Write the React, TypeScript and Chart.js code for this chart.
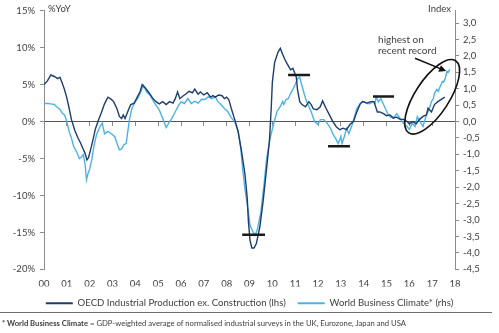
import React, { useEffect, useRef } from "react";
import { Chart, registerables } from "chart.js";

Chart.register(...registerables);

// OECD Industrial Production ex. Construction, % YoY (left axis): [year, value]
const oecdPoints: [number, number][] = [
  [2000.0, 5.0], [2000.15, 5.5], [2000.3, 6.3], [2000.45, 6.1], [2000.6, 5.8], [2000.7, 6.0],
  [2000.8, 5.2], [2000.9, 4.3], [2001.0, 3.2], [2001.1, 1.8], [2001.2, 0.3], [2001.35, -1.2],
  [2001.5, -2.3], [2001.6, -2.9], [2001.7, -3.6], [2001.8, -4.3], [2001.88, -5.2], [2001.95, -4.9],
  [2002.05, -3.7], [2002.15, -2.4], [2002.25, -1.0], [2002.4, 0.3], [2002.5, 1.1], [2002.65, 2.4],
  [2002.8, 3.3], [2002.95, 3.0], [2003.05, 2.7], [2003.2, 1.7], [2003.3, 0.7], [2003.4, 0.4],
  [2003.47, 0.9], [2003.55, 0.4], [2003.7, 1.6], [2003.8, 2.3], [2003.95, 2.5], [2004.05, 3.1],
  [2004.2, 4.0], [2004.3, 5.0], [2004.45, 4.5], [2004.6, 3.9], [2004.75, 3.2], [2004.9, 2.7],
  [2005.05, 2.4], [2005.2, 2.7], [2005.35, 2.3], [2005.5, 2.7], [2005.65, 2.5], [2005.75, 3.1],
  [2005.85, 4.0], [2005.95, 3.1], [2006.1, 3.5], [2006.2, 3.7], [2006.35, 4.1], [2006.5, 3.9],
  [2006.6, 4.4], [2006.75, 3.7], [2006.85, 4.0], [2007.0, 3.6], [2007.15, 3.9], [2007.3, 3.3],
  [2007.4, 3.5], [2007.5, 3.3], [2007.65, 3.6], [2007.8, 3.5], [2007.9, 3.1], [2008.0, 3.3],
  [2008.1, 2.9], [2008.2, 1.8], [2008.35, 0.3], [2008.5, -1.3], [2008.65, -4.0], [2008.8, -7.1],
  [2008.9, -10.3], [2008.95, -13.4], [2009.02, -16.0], [2009.1, -17.1], [2009.2, -17.1], [2009.3, -16.5],
  [2009.45, -14.3], [2009.6, -10.7], [2009.75, -6.3], [2009.87, -2.7], [2009.95, 1.7], [2010.0, 5.3],
  [2010.1, 8.0], [2010.25, 9.4], [2010.35, 9.9], [2010.45, 9.1], [2010.55, 8.4], [2010.65, 7.8],
  [2010.8, 7.0], [2010.9, 7.2], [2010.95, 6.8], [2011.05, 6.0], [2011.1, 4.4], [2011.2, 2.7],
  [2011.3, 2.3], [2011.45, 2.0], [2011.6, 2.7], [2011.7, 2.3], [2011.8, 1.7], [2011.95, 1.6],
  [2012.1, 2.0], [2012.2, 2.8], [2012.35, 1.8], [2012.5, 0.9], [2012.65, 0.0], [2012.8, -0.7],
  [2012.95, -1.1], [2013.1, -0.9], [2013.25, -1.1], [2013.4, -0.4], [2013.55, 0.0], [2013.7, 1.3],
  [2013.85, 2.4], [2013.95, 2.7], [2014.15, 2.5], [2014.3, 2.7], [2014.45, 2.7], [2014.6, 1.3],
  [2014.7, 1.3], [2014.85, 1.1], [2015.0, 0.8], [2015.15, 0.9], [2015.3, 0.5], [2015.45, 0.6],
  [2015.6, 0.3], [2015.75, 0.3], [2015.9, 0.0], [2016.0, -0.3], [2016.15, 0.0], [2016.3, -0.3],
  [2016.45, 0.3], [2016.6, 0.7], [2016.75, 0.9], [2016.82, 1.8], [2016.97, 1.3], [2017.1, 2.3],
  [2017.25, 2.7], [2017.35, 2.9], [2017.45, 3.1], [2017.55, 3.3],
];

// World Business Climate, index (right axis): [year, value]
const wbcPoints: [number, number][] = [
  [2000.0, 0.55], [2000.15, 0.55], [2000.3, 0.54], [2000.45, 0.52], [2000.55, 0.45], [2000.7, 0.37],
  [2000.8, 0.25], [2000.9, 0.2], [2001.0, 0.0], [2001.1, -0.3], [2001.2, -0.5], [2001.3, -0.76],
  [2001.45, -0.95], [2001.55, -1.13], [2001.65, -1.07], [2001.72, -1.0], [2001.8, -1.3], [2001.86, -1.77],
  [2001.92, -1.6], [2002.0, -1.44], [2002.1, -1.13], [2002.2, -0.7], [2002.3, -0.4], [2002.45, -0.15],
  [2002.55, -0.05], [2002.65, -0.37], [2002.8, -0.3], [2002.95, -0.37], [2003.1, -0.46], [2003.2, -0.67],
  [2003.3, -0.86], [2003.4, -0.83], [2003.5, -0.7], [2003.6, -0.67], [2003.65, -0.4], [2003.75, 0.09],
  [2003.85, 0.4], [2004.0, 0.61], [2004.1, 0.7], [2004.2, 0.85], [2004.35, 1.1], [2004.5, 0.9],
  [2004.65, 0.8], [2004.85, 0.55], [2005.05, 0.35], [2005.2, 0.09], [2005.35, -0.18], [2005.5, 0.0],
  [2005.6, 0.1], [2005.75, 0.3], [2005.9, 0.5], [2006.0, 0.6], [2006.15, 0.55], [2006.3, 0.7],
  [2006.45, 0.55], [2006.6, 0.62], [2006.75, 0.56], [2006.9, 0.68], [2007.05, 0.67], [2007.2, 0.76],
  [2007.35, 0.7], [2007.5, 0.76], [2007.6, 0.62], [2007.75, 0.52], [2007.9, 0.4], [2008.05, 0.3],
  [2008.2, 0.12], [2008.35, 0.0], [2008.5, -0.3], [2008.62, -0.83], [2008.7, -1.44], [2008.8, -2.05],
  [2008.95, -2.75], [2009.02, -3.15], [2009.15, -3.36], [2009.25, -3.46], [2009.35, -3.27], [2009.5, -2.75],
  [2009.65, -1.83], [2009.75, -1.13], [2009.9, -0.52], [2010.05, -0.09], [2010.2, 0.3], [2010.35, 0.46],
  [2010.45, 0.61], [2010.5, 0.52], [2010.6, 0.67], [2010.7, 0.7], [2010.8, 0.86], [2010.9, 0.98],
  [2011.0, 1.13], [2011.1, 1.3], [2011.2, 1.35], [2011.27, 1.16], [2011.4, 0.83], [2011.5, 0.61],
  [2011.6, 0.46], [2011.7, 0.3], [2011.85, 0.0], [2012.0, -0.09], [2012.1, 0.06], [2012.25, 0.06],
  [2012.4, -0.05], [2012.55, -0.21], [2012.65, -0.37], [2012.8, -0.55], [2012.88, -0.67], [2012.95, -0.55],
  [2013.0, -0.45], [2013.05, -0.67], [2013.15, -0.46], [2013.25, -0.21], [2013.35, -0.37], [2013.5, -0.09],
  [2013.6, 0.15], [2013.7, 0.4], [2013.85, 0.55], [2014.0, 0.61], [2014.15, 0.55], [2014.3, 0.55],
  [2014.4, 0.61], [2014.5, 0.55], [2014.55, 0.76], [2014.65, 0.6], [2014.75, 0.7], [2014.85, 0.55],
  [2014.95, 0.4], [2015.05, 0.24], [2015.15, 0.15], [2015.3, 0.1], [2015.45, 0.24], [2015.6, 0.09],
  [2015.75, -0.06], [2015.9, -0.15], [2016.0, -0.24], [2016.12, -0.05], [2016.25, -0.15], [2016.35, 0.15],
  [2016.47, 0.0], [2016.6, -0.15], [2016.68, 0.05], [2016.75, 0.21], [2016.82, 0.3], [2016.9, 0.46],
  [2016.97, 0.61], [2017.05, 0.7], [2017.1, 0.86], [2017.2, 0.98], [2017.27, 0.92], [2017.35, 1.07],
  [2017.45, 1.22], [2017.5, 1.2], [2017.57, 1.31], [2017.65, 1.53], [2017.7, 1.5], [2017.77, 1.59],
];

const seriesNames = [
  "OECD Industrial Production ex. Construction (lhs)",
  "World Business Climate* (rhs)",
];

// Axis tick labels
const leftTicks = [-20, -15, -10, -5, 0, 5, 10, 15];
const rightTicks = [-4.5, -4, -3.5, -3, -2.5, -2, -1.5, -1, -0.5, 0, 0.5, 1, 1.5, 2, 2.5, 3];
const yearTicks = [2000, 2001, 2002, 2003, 2004, 2005, 2006, 2007, 2008, 2009, 2010, 2011, 2012, 2013, 2014, 2015, 2016, 2017, 2018];

// Black level markers (left axis, %)
const markerStarts = [2008.68, 2010.69, 2012.44, 2014.41];
const markerEnds = [2009.68, 2011.65, 2013.4, 2015.33];
const markerLevels = [-15.3, 6.3, -3.35, 3.4];

// Annotation anchors (year, % on left axis)
const noteLines = ["highest on", "recent record"];
const noteAnchor: [number, number] = [2014.63, 11.1];
const arrowFrom: [number, number] = [2016.25, 8.57];
const arrowTo: [number, number] = [2017.61, 6.83];
const ellipseCenter: [number, number] = [2017.0, 3.35];

const DARK = "#1f3c6e";
const LIGHT = "#4cb2e6";
const TEXT = "#404040";
const AXIS = "#8c8c8c";
const FONT = "Lato";

const leftMin = -20;
const leftMax = 15;
const rightMin = -4.5;
const rightMax = (rightMin * leftMax) / leftMin;

const notesPlugin = {
  id: "notes",
  afterDatasetsDraw(chart: any) {
    const { ctx, chartArea, scales } = chart;
    const x = scales.x;
    const y = scales.y;
    ctx.save();
    ctx.fillStyle = TEXT;
    ctx.font = `9.5px ${FONT}`;
    ctx.textBaseline = "middle";
    ctx.textAlign = "left";
    ctx.fillText("%YoY", chartArea.left + 4, chartArea.top - 1.5);
    ctx.textAlign = "right";
    ctx.fillText("Index", chartArea.right - 4, chartArea.top - 1.5);

    ctx.font = `10px ${FONT}`;
    ctx.textAlign = "left";
    const nx = x.getPixelForValue(noteAnchor[0]);
    const ny = y.getPixelForValue(noteAnchor[1]);
    noteLines.forEach((t, i) => ctx.fillText(t, nx, ny + i * 11));

    // ellipse
    ctx.strokeStyle = "#111";
    ctx.lineWidth = 1.6;
    ctx.beginPath();
    ctx.ellipse(
      x.getPixelForValue(ellipseCenter[0]),
      y.getPixelForValue(ellipseCenter[1]),
      43, 17, (-57 * Math.PI) / 180, 0, Math.PI * 2
    );
    ctx.stroke();

    // arrow
    const ax1 = x.getPixelForValue(arrowFrom[0]);
    const ay1 = y.getPixelForValue(arrowFrom[1]);
    const ax2 = x.getPixelForValue(arrowTo[0]);
    const ay2 = y.getPixelForValue(arrowTo[1]);
    const ang = Math.atan2(ay2 - ay1, ax2 - ax1);
    ctx.lineWidth = 1.5;
    ctx.beginPath();
    ctx.moveTo(ax1, ay1);
    ctx.lineTo(ax2 - 5 * Math.cos(ang), ay2 - 5 * Math.sin(ang));
    ctx.stroke();
    ctx.fillStyle = "#111";
    ctx.beginPath();
    ctx.moveTo(ax2, ay2);
    ctx.lineTo(ax2 - 7 * Math.cos(ang) + 3.5 * Math.sin(ang), ay2 - 7 * Math.sin(ang) - 3.5 * Math.cos(ang));
    ctx.lineTo(ax2 - 7 * Math.cos(ang) - 3.5 * Math.sin(ang), ay2 - 7 * Math.sin(ang) + 3.5 * Math.cos(ang));
    ctx.closePath();
    ctx.fill();
    ctx.restore();
  },
};

export default function App() {
  const ref = useRef<HTMLCanvasElement | null>(null);

  useEffect(() => {
    if (!ref.current) return;
    const markerSets = markerLevels.map((lvl, i) => ({
      label: `marker${i}`,
      data: [
        { x: markerStarts[i], y: lvl },
        { x: markerEnds[i], y: lvl },
      ],
      borderColor: "#1a1a1a",
      backgroundColor: "#1a1a1a",
      borderWidth: 2.5,
      pointRadius: 0,
      yAxisID: "y",
      xAxisID: "x",
      order: -1,
    }));

    const chart = new Chart(ref.current, {
      type: "line",
      data: {
        datasets: [
          {
            label: seriesNames[0],
            data: oecdPoints.map(([x, y]) => ({ x, y })),
            borderColor: DARK,
            backgroundColor: DARK,
            borderWidth: 1.4,
            pointRadius: 0,
            tension: 0,
            yAxisID: "y",
            xAxisID: "x",
          },
          {
            label: seriesNames[1],
            data: wbcPoints.map(([x, y]) => ({ x, y })),
            borderColor: LIGHT,
            backgroundColor: LIGHT,
            borderWidth: 1.4,
            pointRadius: 0,
            tension: 0,
            yAxisID: "y1",
            xAxisID: "x",
          },
          ...markerSets,
        ] as any,
      },
      options: {
        animation: false,
        responsive: false,
        devicePixelRatio: 1,
        layout: { padding: { top: 9, left: 0, right: 0, bottom: 0 } },
        plugins: {
          tooltip: { enabled: false },
          legend: {
            position: "bottom",
            labels: {
              boxWidth: 27,
              boxHeight: 2,
              padding: 12,
              color: TEXT,
              font: { family: FONT, size: 9.6 },
              generateLabels: () =>
                seriesNames.map((t, i) => ({
                  text: t,
                  fillStyle: i === 0 ? DARK : LIGHT,
                  strokeStyle: i === 0 ? DARK : LIGHT,
                  lineWidth: 0,
                  hidden: false,
                  datasetIndex: i,
                  fontColor: TEXT,
                })),
            },
          },
        },
        scales: {
          x: {
            type: "linear",
            position: "bottom",
            min: 2000,
            max: 2018,
            afterBuildTicks: (s: any) => {
              s.ticks = yearTicks.map((v) => ({ value: v }));
            },
            afterFit: (s: any) => {
              s.height = 17;
            },
            grid: { display: false, drawTicks: false },
            border: { display: false },
            ticks: {
              padding: 9,
              color: TEXT,
              font: { family: FONT, size: 9.5 },
              maxRotation: 0,
              autoSkip: false,
              callback: (v: any) => String(Math.round(v) % 100).padStart(2, "0"),
            },
          },
          x0: {
            type: "linear",
            position: { y: 0 } as any,
            min: 2000,
            max: 2018,
            afterBuildTicks: (s: any) => {
              s.ticks = yearTicks.map((v) => ({ value: v }));
            },
            grid: { drawOnChartArea: false, drawTicks: true, tickLength: 4, color: AXIS },
            border: { display: true, color: "#555", width: 1 },
            ticks: { display: false },
          },
          y: {
            type: "linear",
            position: "left",
            min: leftMin,
            max: leftMax,
            afterBuildTicks: (s: any) => {
              s.ticks = leftTicks.map((v) => ({ value: v }));
            },
            afterFit: (s: any) => {
              s.width = 44;
            },
            grid: { drawOnChartArea: false, drawTicks: true, tickLength: 4, color: AXIS },
            border: { display: true, color: AXIS },
            ticks: {
              padding: 5,
              color: TEXT,
              font: { family: FONT, size: 9.5 },
              callback: (v: any) => `${v}%`,
            },
          },
          y1: {
            type: "linear",
            position: "right",
            min: rightMin,
            max: rightMax,
            afterBuildTicks: (s: any) => {
              s.ticks = rightTicks.map((v) => ({ value: v }));
            },
            afterFit: (s: any) => {
              s.width = 44;
            },
            grid: { drawOnChartArea: false, drawTicks: true, tickLength: 4, color: AXIS },
            border: { display: true, color: AXIS },
            ticks: {
              padding: 4,
              color: TEXT,
              font: { family: FONT, size: 9.5 },
              callback: (v: any) => Number(v).toFixed(1).replace(".", ","),
            },
          },
        },
      },
      plugins: [notesPlugin],
    });
    return () => chart.destroy();
  }, []);

  return (
    <div
      style={{
        position: "absolute",
        left: 0,
        top: 0,
        width: 499,
        height: 333,
        background: "#fff",
        overflow: "hidden",
      }}
    >
      <canvas ref={ref} width={499} height={318} style={{ position: "absolute", left: 0, top: 0, width: 499, height: 318 }} />
      <div
        style={{
          position: "absolute",
          left: 0,
          top: 312,
          width: 492,
          height: 0,
          borderTop: "1px solid #6e6e6e",
        }}
      />
      <div
        style={{
          position: "absolute",
          left: 2,
          top: 318,
          fontFamily: FONT,
          fontSize: 7.7,
          lineHeight: "10px",
          color: TEXT,
          whiteSpace: "nowrap",
        }}
      >
        <b>* World Business Climate</b> = GDP-weighted average of normalised industrial surveys in the UK, Eurozone, Japan and USA
      </div>
    </div>
  );
}
